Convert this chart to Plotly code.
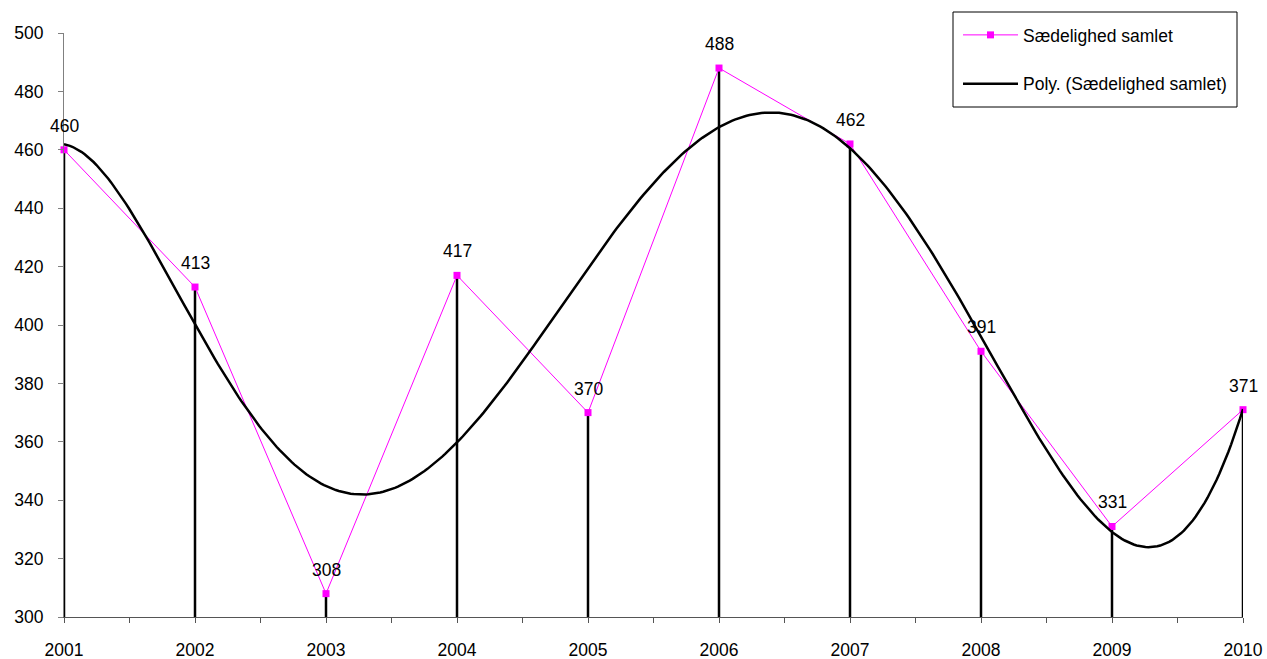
import numpy as np
import plotly.graph_objects as go

years = [2001, 2002, 2003, 2004, 2005, 2006, 2007, 2008, 2009, 2010]
values = [460, 413, 308, 417, 370, 488, 462, 391, 331, 371]
y_ticks = [300, 320, 340, 360, 380, 400, 420, 440, 460, 480, 500]
series_name = "Sædelighed samlet"
trend_name = "Poly. (Sædelighed samlet)"
poly_order = 6

FONT = "Liberation Sans, Arial"
FS = 17.5
W, H = 1267, 659
ML, MR, MT, MB = 64, 24, 33, 42
PW, PH = W - ML - MR, H - MT - MB

xs = np.array(years, dtype=float)
ys = np.array(values, dtype=float)
coef = np.polyfit(xs - xs[0], ys, poly_order)
xf = np.linspace(xs[0], xs[-1], 400)
yf = np.polyval(coef, xf - xs[0])

drop_x, drop_y = [], []
for x, v in zip(years, values):
    drop_x += [x, x, None]
    drop_y += [y_ticks[0], v, None]

fig = go.Figure()
fig.add_trace(go.Scatter(x=drop_x, y=drop_y, mode="lines",
                         line=dict(color="black", width=2.5),
                         showlegend=False, hoverinfo="skip", cliponaxis=False))
fig.add_trace(go.Scatter(x=years, y=values, mode="lines+markers",
                         name=series_name, legendgroup="a",
                         line=dict(color="#FF00FF", width=1),
                         marker=dict(symbol="square", size=7, color="#FF00FF"),
                         cliponaxis=False))
fig.add_trace(go.Scatter(x=xf, y=yf, mode="lines", name=trend_name, legendgroup="b",
                         line=dict(color="black", width=2.5), cliponaxis=False))

for x, v in zip(years, values):
    fig.add_annotation(x=x, y=v, text=str(v), showarrow=False, yshift=24,
                       font=dict(family=FONT, size=FS, color="black"))

# legend frame (page pixels 953..1237 x 12..107)
fig.add_shape(type="rect", xref="paper", yref="paper",
              x0=(953 - ML) / PW, x1=(1237 - ML) / PW,
              y0=(H - MB - 107) / PH, y1=(H - MB - 12) / PH,
              line=dict(color="black", width=1), fillcolor="rgba(0,0,0,0)")

fig.update_layout(
    width=W, height=H,
    margin=dict(l=ML, r=MR, t=MT, b=MB, autoexpand=False),
    plot_bgcolor="white", paper_bgcolor="white",
    font=dict(family=FONT, size=FS, color="black"),
    legend=dict(xref="container", yref="container", x=958 / W, y=1 - 17 / H,
                xanchor="left", yanchor="top",
                borderwidth=0, bgcolor="rgba(0,0,0,0)",
                tracegroupgap=23, font=dict(size=FS), itemwidth=55,
                traceorder="grouped"),
    xaxis=dict(range=[2001, 2010], tickvals=years, ticktext=[str(y) for y in years],
               showgrid=False, zeroline=False, showline=True, linecolor="#555555",
               ticks="outside", ticklen=5, tickcolor="#555555", automargin=False,
               minor=dict(dtick=0.5, ticks="outside", ticklen=5, tickcolor="#555555", showgrid=False),
               tickfont=dict(size=FS), ticklabelstandoff=12),
    yaxis=dict(range=[300, 500], tickvals=y_ticks, showgrid=False, zeroline=False,
               showline=True, linecolor="#808080", ticks="outside", ticklen=5, automargin=False,
               tickcolor="#808080", tickfont=dict(size=FS), ticklabelstandoff=11),
)
fig.write_html("out.html", config={"displayModeBar": False},
               post_script="document.body.style.margin='0';document.body.style.overflow='hidden';")
